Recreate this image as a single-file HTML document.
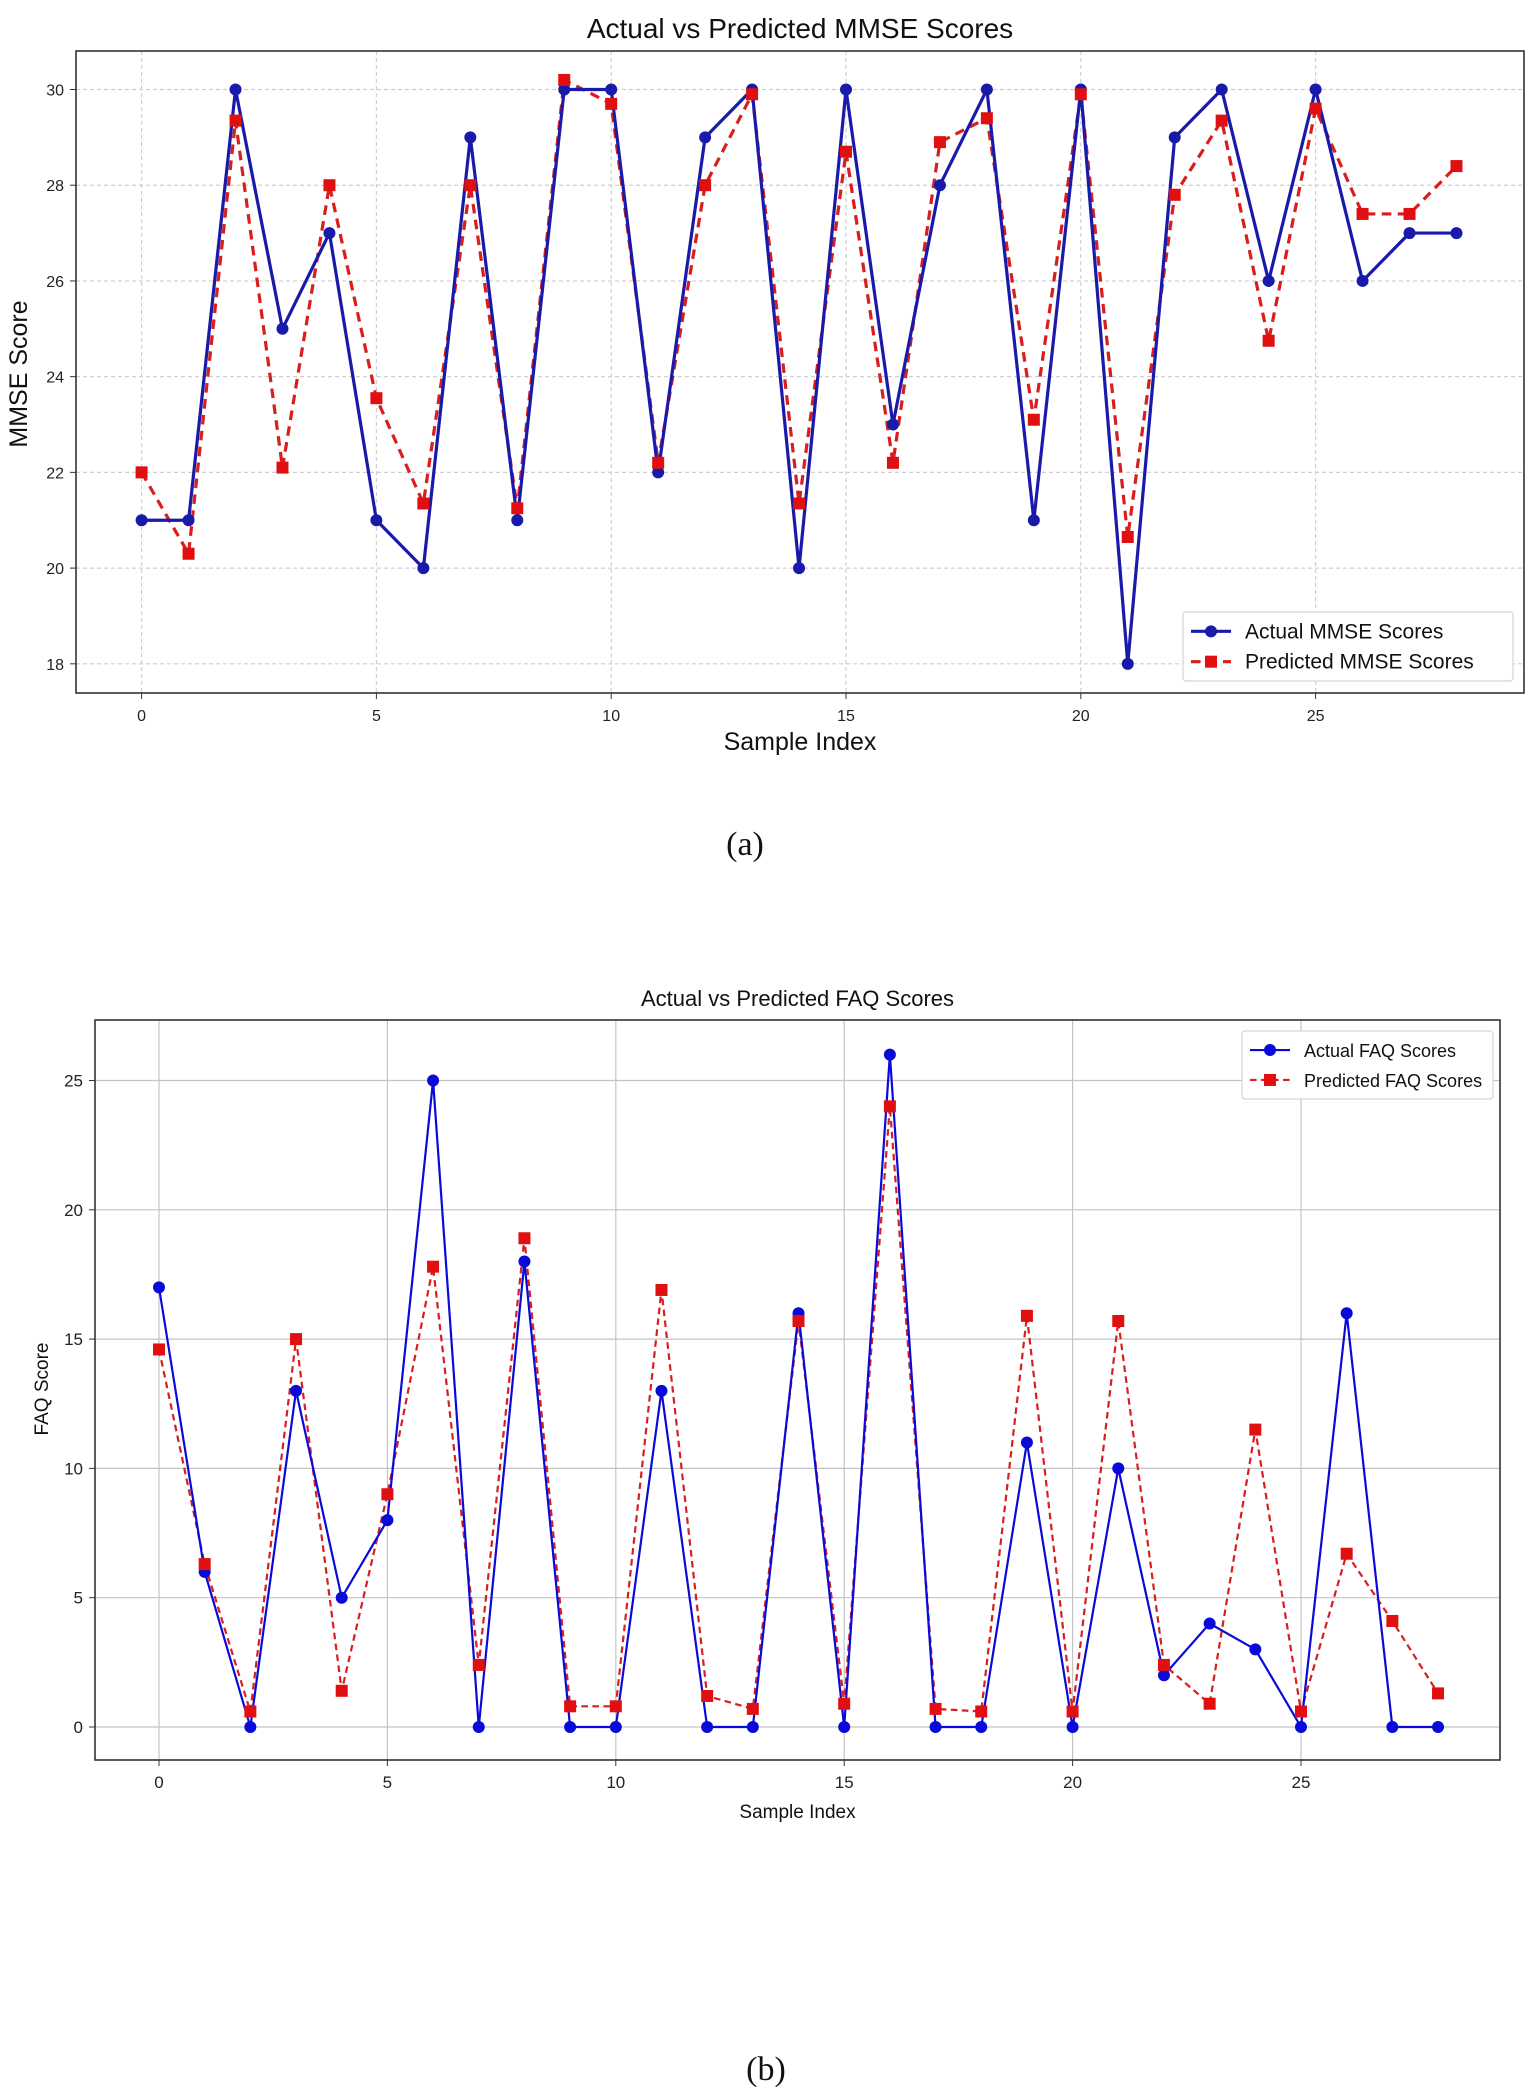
<!DOCTYPE html>
<html><head><meta charset="utf-8"><style>
html,body{margin:0;padding:0;background:#fff;}
svg{display:block;font-family:"Liberation Sans",sans-serif;}
</style></head><body>
<svg id="s" width="1536" height="2087" xmlns="http://www.w3.org/2000/svg"></svg>
<script>
const S=document.getElementById('s');let h='';
function chart(o){
 const X=i=>o.x0+i*o.xu, Y=v=>o.y0-(v-o.y0v)*o.yu;
 // grid
 for(const t of o.xt){h+=`<line x1="${X(t)}" x2="${X(t)}" y1="${o.top}" y2="${o.bot}" stroke="${o.gc}" stroke-width="1.2" ${o.dash?'stroke-dasharray="4,3"':''}/>`;
  h+=`<line x1="${X(t)}" x2="${X(t)}" y1="${o.bot}" y2="${o.bot+6}" stroke="#333"/>`;
  h+=`<text x="${X(t)}" y="${o.bot+28}" font-size="${o.fs}" text-anchor="middle" fill="#222">${t}</text>`;}
 for(const t of o.yt){h+=`<line x1="${o.left}" x2="${o.right}" y1="${Y(t)}" y2="${Y(t)}" stroke="${o.gc}" stroke-width="1.2" ${o.dash?'stroke-dasharray="4,3"':''}/>`;
  h+=`<line x1="${o.left-6}" x2="${o.left}" y1="${Y(t)}" y2="${Y(t)}" stroke="#333"/>`;
  h+=`<text x="${o.left-12}" y="${Y(t)+6}" font-size="${o.fs}" text-anchor="end" fill="#222">${t}</text>`;}
 h+=`<rect x="${o.left}" y="${o.top}" width="${o.right-o.left}" height="${o.bot-o.top}" fill="none" stroke="#333" stroke-width="1.6"/>`;
 const pa=o.a.map((v,i)=>X(i)+','+Y(v)).join(' '), pp=o.p.map((v,i)=>X(i)+','+Y(v)).join(' ');
 h+=`<polyline points="${pp}" fill="none" stroke="#d91e1e" stroke-width="${o.lw}" stroke-dasharray="${o.lw*3},${o.lw*2}"/>`;
 h+=`<polyline points="${pa}" fill="none" stroke="${o.bc}" stroke-width="${o.lw}"/>`;
 o.a.forEach((v,i)=>h+=`<circle cx="${X(i)}" cy="${Y(v)}" r="${o.mr}" fill="${o.bc}"/>`);
 o.p.forEach((v,i)=>h+=`<rect x="${X(i)-o.mr}" y="${Y(v)-o.mr}" width="${o.mr*2}" height="${o.mr*2}" fill="#e01010"/>`);
 // titles
 h+=`<text x="${(o.left+o.right)/2}" y="${o.ty}" font-size="${o.tfs}" text-anchor="middle" fill="#111">${o.title}</text>`;
 h+=`<text x="${(o.left+o.right)/2}" y="${o.xly}" font-size="${o.lfs}" text-anchor="middle" fill="#111">Sample Index</text>`;
 h+=`<text transform="translate(${o.ylx},${o.yly}) rotate(-90)" font-size="${o.lfs}" text-anchor="middle" fill="#111">${o.ylab}</text>`;
 // legend
 const L=o.leg;h+=`<rect x="${L.x}" y="${L.y}" width="${L.w}" height="${L.h}" fill="#fff" stroke="#ccc" rx="3"/>`;
 const r1=L.y+L.h*0.28,r2=L.y+L.h*0.72;
 h+=`<line x1="${L.x+8}" x2="${L.x+48}" y1="${r1}" y2="${r1}" stroke="${o.bc}" stroke-width="${o.lw}"/><circle cx="${L.x+28}" cy="${r1}" r="${o.mr}" fill="${o.bc}"/>`;
 h+=`<line x1="${L.x+8}" x2="${L.x+48}" y1="${r2}" y2="${r2}" stroke="#d91e1e" stroke-width="${o.lw}" stroke-dasharray="${o.lw*3},${o.lw*2}"/><rect x="${L.x+28-o.mr}" y="${r2-o.mr}" width="${o.mr*2}" height="${o.mr*2}" fill="#e01010"/>`;
 h+=`<text x="${L.x+62}" y="${r1+7}" font-size="${o.legfs}" fill="#111">${L.t1}</text><text x="${L.x+62}" y="${r2+7}" font-size="${o.legfs}" fill="#111">${L.t2}</text>`;
}
chart({left:76,right:1524,top:51,bot:693,x0:141.6,xu:46.96,y0:89.5,y0v:30,yu:47.86,xt:[0,5,10,15,20,25],yt:[18,20,22,24,26,28,30],
 gc:"#cfcfcf",dash:true,fs:16,lw:3.2,mr:6,bc:"#1a1aaa",
 a:[21,21,30,25,27,21,20,29,21,30,30,22,29,30,20,30,23,28,30,21,30,18,29,30,26,30,26,27,27],
 p:[22,20.3,29.35,22.1,28,23.55,21.35,28,21.25,30.2,29.7,22.2,28,29.9,21.35,28.7,22.2,28.9,29.4,23.1,29.9,20.65,27.8,29.35,24.75,29.6,27.4,27.4,28.4],
 title:"Actual vs Predicted MMSE Scores",ty:38,tfs:28,xly:750,lfs:25,ylx:27,yly:374,ylab:"MMSE Score",
 leg:{x:1183,y:612,w:330,h:69,t1:"Actual MMSE Scores",t2:"Predicted MMSE Scores"},legfs:21});
chart({left:95,right:1500,top:1020,bot:1760,x0:159,xu:45.68,y0:1727,y0v:0,yu:25.86,xt:[0,5,10,15,20,25],yt:[0,5,10,15,20,25],
 gc:"#c4c4c4",dash:false,fs:17,lw:2.2,mr:6,bc:"#0a0ad8",
 a:[17,6,0,13,5,8,25,0,18,0,0,13,0,0,16,0,26,0,0,11,0,10,2,4,3,0,16,0,0],
 p:[14.6,6.3,0.6,15,1.4,9,17.8,2.4,18.9,0.8,0.8,16.9,1.2,0.7,15.7,0.9,24,0.7,0.6,15.9,0.6,15.7,2.4,0.9,11.5,0.6,6.7,4.1,1.3],
 title:"Actual vs Predicted FAQ Scores",ty:1006,tfs:22,xly:1818,lfs:19,ylx:48,yly:1389,ylab:"FAQ Score",
 leg:{x:1242,y:1031,w:251,h:68,t1:"Actual FAQ Scores",t2:"Predicted FAQ Scores"},legfs:18});
h+=`<text x="745" y="855" font-size="34" font-family="Liberation Serif,serif" text-anchor="middle" fill="#111">(a)</text>`;
h+=`<text x="766" y="2080" font-size="34" font-family="Liberation Serif,serif" text-anchor="middle" fill="#111">(b)</text>`;
S.innerHTML=h;
</script>
</body></html>
